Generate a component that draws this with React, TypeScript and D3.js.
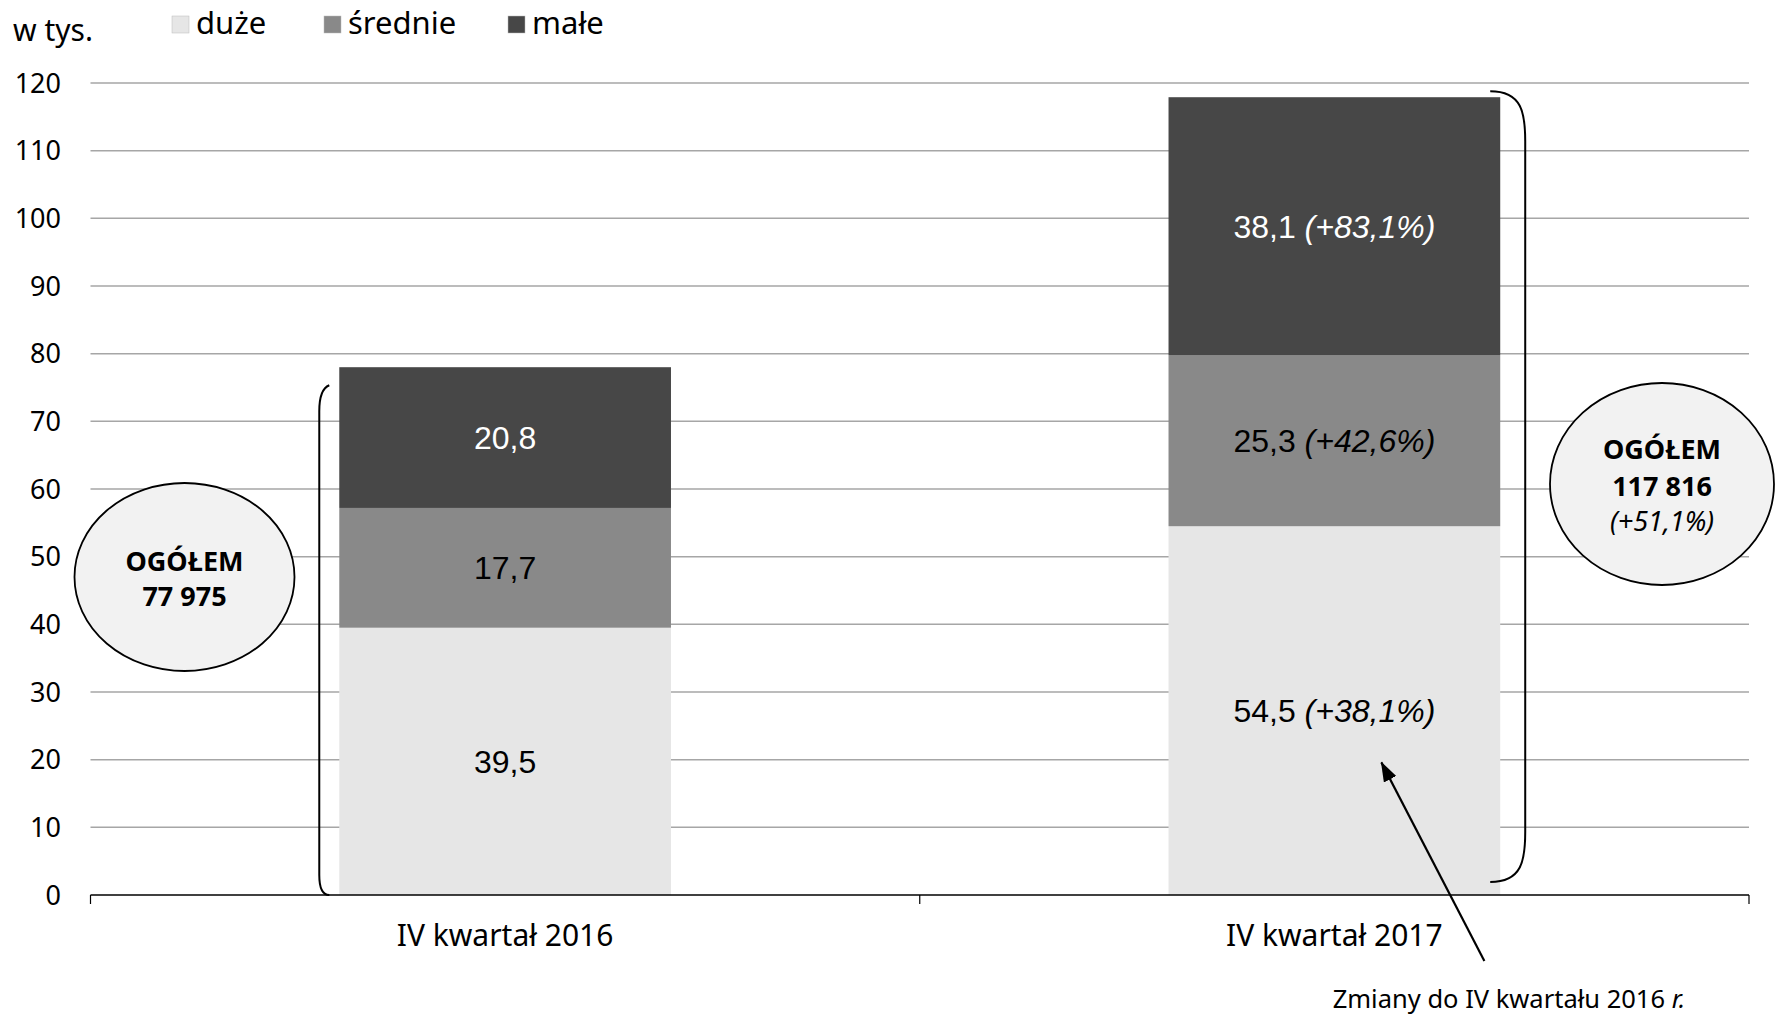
import React from 'react';
import * as d3 from 'd3';

// data (w tys.)
const categories = ['IV kwartał 2016', 'IV kwartał 2017'];
const seriesNames = ['duże', 'średnie', 'małe'];
const duze = [39.5, 54.5];
const srednie = [17.7, 25.3];
const male = [20.8, 38.1];
const duzeChange = ['', '(+38,1%)'];
const srednieChange = ['', '(+42,6%)'];
const maleChange = ['', '(+83,1%)'];
const totals = ['77 975', '117 816'];
const totalChange = ['', '(+51,1%)'];
const yTicks = [0, 10, 20, 30, 40, 50, 60, 70, 80, 90, 100, 110, 120];

const colors = ['#e6e6e6', '#898989', '#474747'];
const labelColors = ['#000', '#000', '#fff'];

const W = 1775;
const H = 1014;
const left = 90.5;
const right = 1749;
const top = 83;
const bottom = 895;

const FONT = "'Noto Sans', 'Open Sans', sans-serif";
const ARIAL = "'Liberation Sans', Arial, sans-serif";

const App = () => {
  const x = d3.scaleBand<string>().domain(categories).range([left, right]).padding(0);
  const y = d3.scaleLinear().domain([0, 120]).range([bottom, top]);
  const barW = x.bandwidth() * 0.4;

  const values = [duze, srednie, male];
  const changes = [duzeChange, srednieChange, maleChange];
  const stack = d3.stack<number>()
    .keys(['0', '1', '2'])
    .value((i, k) => values[+k][i]);
  const layers = stack([0, 1]);

  const totalVals = categories.map((_, i) => duze[i] + srednie[i] + male[i]);

  // bracket paths
  const bx0 = (x(categories[0]) as number) + x.bandwidth() / 2 - barW / 2;
  const lTop = y(totalVals[0]) + 18;
  const lx = bx0 - 20;
  const leftBracket = `M${lx + 10},${lTop} Q${lx},${lTop + 4} ${lx},${lTop + 26} L${lx},${bottom - 20} Q${lx},${bottom} ${lx + 10},${bottom}`;

  const bx1 = (x(categories[1]) as number) + x.bandwidth() / 2 + barW / 2;
  const rTop = y(totalVals[1]) - 6;
  const rBot = bottom - 13;
  const rx = bx1 + 25;
  const rightBracket = `M${bx1 - 10},${rTop} C${rx - 3},${rTop} ${rx},${rTop + 22} ${rx},${rTop + 50} L${rx},${rBot - 50} C${rx},${rBot - 22} ${rx - 3},${rBot} ${bx1 - 10},${rBot}`;

  const xc1 = (x(categories[1]) as number) + x.bandwidth() / 2;
  const arrowTip = [xc1 + 47, y(19.6)];
  const arrowTail = [xc1 + 150, bottom + 66];

  const ellipses = [
    { cx: 184.5, cy: 577, rx: 110, ry: 94 },
    { cx: 1662, cy: 484, rx: 112, ry: 101 },
  ];

  return (
    <svg width={W} height={H} style={{ position: 'absolute', left: 0, top: 0, background: '#fff' }}>
      <defs>
        <marker id="arrBig" viewBox="0 0 20 14" refX="19" refY="7" markerWidth="20" markerHeight="14" markerUnits="userSpaceOnUse" orient="auto">
          <path d="M0,0 L20,7 L0,14 z" fill="#000" />
        </marker>
      </defs>

      {/* gridlines */}
      {yTicks.filter(t => t > 0).map(t => (
        <line key={t} x1={left} x2={right} y1={y(t)} y2={y(t)} stroke="#a6a6a6" strokeWidth={1.5} />
      ))}

      {/* y tick labels */}
      {yTicks.map(t => (
        <text key={t} x={61} y={y(t)} dy="0.36em" textAnchor="end" fontFamily={FONT} fontSize={27} fill="#000">{t}</text>
      ))}
      <text x={13} y={41} fontFamily={FONT} fontSize={30} fill="#000">w tys.</text>

      {/* legend */}
      {seriesNames.map((s, i) => {
        const lx0 = [172, 324, 508][i];
        return (
          <g key={s}>
            <rect x={lx0} y={16} width={17} height={17} fill={colors[i]} stroke="#bbb" strokeWidth={0.5} />
            <text x={lx0 + 24} y={34} fontFamily={FONT} fontSize={31} fill="#000">{s}</text>
          </g>
        );
      })}

      {/* bars */}
      {layers.map((layer, li) => (
        <g key={li}>
          {layer.map((d, i) => {
            const xc = (x(categories[i]) as number) + x.bandwidth() / 2;
            return (
              <rect key={i} x={xc - barW / 2} y={y(d[1])} width={barW} height={y(d[0]) - y(d[1])} fill={colors[li]} />
            );
          })}
        </g>
      ))}

      {/* bar labels */}
      {layers.map((layer, li) => (
        <g key={'l' + li}>
          {layer.map((d, i) => {
            const xc = (x(categories[i]) as number) + x.bandwidth() / 2;
            const ym = (y(d[0]) + y(d[1])) / 2;
            const val = values[li][i].toFixed(1).replace('.', ',');
            const ch = changes[li][i];
            return (
              <text key={i} x={xc} y={ym} dy="0.36em" textAnchor="middle" fontFamily={ARIAL} fontSize={32} fill={labelColors[li]}>
                {val}
                {ch && <tspan fontStyle="italic">{' ' + ch}</tspan>}
              </text>
            );
          })}
        </g>
      ))}

      {/* x axis */}
      <line x1={left} x2={right} y1={bottom} y2={bottom} stroke="#000" strokeWidth={1.5} />
      {[left, (left + right) / 2, right].map((tx, i) => (
        <line key={i} x1={tx} x2={tx} y1={bottom} y2={bottom + 9} stroke="#000" strokeWidth={1.2} />
      ))}
      {categories.map(c => (
        <text key={c} x={(x(c) as number) + x.bandwidth() / 2} y={946} textAnchor="middle" fontFamily={FONT} fontSize={30} fill="#000">{c}</text>
      ))}

      {/* brackets */}
      <path d={leftBracket} fill="none" stroke="#000" strokeWidth={2} />
      <path d={rightBracket} fill="none" stroke="#000" strokeWidth={2} />

      {/* total ellipses */}
      {ellipses.map((e, i) => (
        <g key={i}>
          <ellipse cx={e.cx} cy={e.cy} rx={e.rx} ry={e.ry} fill="#f2f2f2" stroke="#000" strokeWidth={1.8} />
          <text x={e.cx} y={totalChange[i] ? e.cy - 25 : e.cy - 6} textAnchor="middle" fontFamily={FONT} fontWeight="bold" fontSize={27} fill="#000">OGÓŁEM</text>
          <text x={e.cx} y={totalChange[i] ? e.cy + 12 : e.cy + 29} textAnchor="middle" fontFamily={FONT} fontWeight="bold" fontSize={27} fill="#000">{totals[i]}</text>
          {totalChange[i] && (
            <text x={e.cx} y={e.cy + 47} textAnchor="middle" fontFamily={FONT} fontStyle="italic" fontSize={27} fill="#000">{totalChange[i]}</text>
          )}
        </g>
      ))}

      {/* annotation arrow */}
      <line x1={arrowTail[0]} y1={arrowTail[1]} x2={arrowTip[0]} y2={arrowTip[1]} stroke="#000" strokeWidth={2.2} markerEnd="url(#arrBig)" />
      <text x={1509} y={1008} textAnchor="middle" fontFamily={FONT} fontSize={25.5} fill="#000">
        Zmiany do IV kwartału 2016 <tspan fontStyle="italic">r.</tspan>
      </text>
    </svg>
  );
};

export default App;
